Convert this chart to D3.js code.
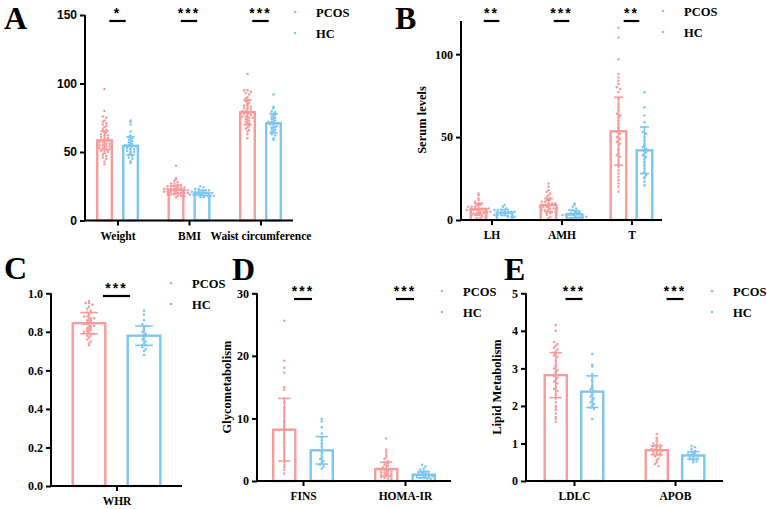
<!DOCTYPE html>
<html><head><meta charset="utf-8">
<script src="https://cdn.jsdelivr.net/npm/d3@7"></script>
<style>body{margin:0;background:#fff}svg{display:block}</style>
</head><body>
<svg id="c" width="767" height="509"></svg>
<script>
// ---------------- DATA ----------------
const groups = ["PCOS", "HC"];
const colors = ["#F89B9B", "#7DC6F0"];

// Panel A
const catsA = ["Weight", "BMI", "Waist circumference"];
const meanA_PCOS = [58.5, 22.5, 79];
const sdA_PCOS = [7, 3, 9];
const meanA_HC = [54.5, 20, 71];
const sdA_HC = [6.5, 1.8, 7];
const sigA = ["*", "***", "***"];
const ticksA = [0, 50, 100, 150];
const weightPCOS = [96,80,76,75,73,72,71,70,69,68,67,66,65,64,63,62,62,61,60,60,59,58,58,57,57,56,56,55,55,54,54,53,53,52,52,51,50,50,49,48,47,46,45,43,41];
const weightHC = [73,72,70,65,62,61,60,59,58,57,56,55,55,54,54,53,52,52,51,50,50,49,48,47,46,45,43,42];
const bmiPCOS = [40,31,30,29,28,27,27,26,26,25,25,25,24,24,24,23,23,23,23,22,22,22,22,21,21,21,21,20,20,20,20,19,19,19,18,18,18,17];
const bmiHC = [25,24,23,23,22,22,22,21,21,21,20,20,20,20,19,19,19,19,18,18,18,18,17,17];
const waistPCOS = [107,95,95,94,93,92,90,89,88,87,86,85,84,84,83,82,82,81,80,80,79,79,78,78,77,76,76,75,75,74,73,72,71,70,69,68,67,66,65,63,60];
const waistHC = [92,83,82,80,79,78,77,76,75,74,73,72,72,71,71,70,70,69,68,68,67,66,65,64,63,62,60,59];

// Panel B
const catsB = ["LH", "AMH", "T"];
const meanB_PCOS = [6.5, 9, 53.5];
const sdB_PCOS = [3.5, 4, 20.5];
const meanB_HC = [4.5, 3.5, 42];
const sdB_HC = [1.8, 2.2, 14];
const sigB = ["**", "***", "**"];
const ticksB = [0, 50, 100];
const lhPCOS = [16,15,13,12,11,10,10,9,9,8,8,8,7,7,7,7,6,6,6,6,5,5,5,5,4,4,4,4,3,3,3,2,2,1,1];
const lhHC = [9,8,7,6,6,6,5,5,5,5,4,4,4,4,4,3,3,3,3,2,2,2];
const amhPCOS = [22,20,18,17,16,15,14,13,12,12,11,11,10,10,10,9,9,9,8,8,8,7,7,7,6,6,6,5,5,4,4,3,2,1];
const amhHC = [10,9,8,7,6,6,5,5,4,4,4,3,3,3,3,2,2,2,2,1,1,1,1];
const tPCOS = [116,110,97,88,86,84,82,80,79,77,73,70,68,66,64,63,62,60,58,56,55,53,52,50,49,48,47,46,45,43,42,40,39,38,36,34,32,30,28,26,24,22,20,17];
const tHC = [77,68,63,59,56,53,52,50,48,46,45,44,43,42,41,40,39,38,37,35,33,31,29,28,27,26,25,23,21];

// Panel C
const catsC = ["WHR"];
const meanC_PCOS = [0.845];
const sdC_PCOS = [0.055];
const meanC_HC = [0.78];
const sdC_HC = [0.05];
const sigC = ["***"];
const ticksC = [0, 0.2, 0.4, 0.6, 0.8, 1.0];
const whrPCOS = [0.96,0.95,0.95,0.94,0.93,0.92,0.91,0.90,0.90,0.89,0.88,0.88,0.87,0.87,0.86,0.86,0.85,0.85,0.84,0.84,0.83,0.83,0.82,0.82,0.81,0.81,0.80,0.80,0.79,0.79,0.78,0.78,0.77,0.76,0.75,0.74,0.73];
const whrHC = [0.91,0.89,0.86,0.84,0.83,0.82,0.81,0.80,0.79,0.78,0.78,0.77,0.76,0.75,0.74,0.73,0.73,0.72,0.71,0.70,0.68];

// Panel D
const catsD = ["FINS", "HOMA-IR"];
const meanD_PCOS = [8.2, 1.9];
const sdD_PCOS = [5, 1.1];
const meanD_HC = [4.9, 1.0];
const sdD_HC = [2.2, 0.5];
const sigD = ["***", "***"];
const ticksD = [0, 10, 20, 30];
const finsPCOS = [25.6,19.2,18.1,17.3,15.0,14.6,13.2,12.6,11.8,11.4,11.0,10.4,9.8,9.4,9.0,8.6,8.2,7.8,7.4,7.0,6.6,6.2,5.8,5.4,5.0,4.6,4.2,3.8,3.4,3.0,2.6,2.2,1.8,1.2];
const finsHC = [9.9,9.5,8.6,7.6,7.0,6.5,6.0,5.5,5.0,4.6,4.2,3.8,3.5,3.2,2.9,2.6,2.3,2.0];
const homaPCOS = [6.8,5.0,4.6,4.2,3.8,3.5,3.2,3.0,2.8,2.6,2.4,2.2,2.0,1.9,1.8,1.7,1.6,1.5,1.4,1.3,1.2,1.1,1.0,0.9,0.8,0.7,0.6,0.5,0.4,0.3];
const homaHC = [2.6,2.3,2.0,1.8,1.6,1.5,1.4,1.3,1.2,1.1,1.0,1.0,0.9,0.8,0.8,0.7,0.6,0.5,0.5,0.4,0.3];

// Panel E
const catsE = ["LDLC", "APOB"];
const meanE_PCOS = [2.82, 0.82];
const sdE_PCOS = [0.6, 0.12];
const meanE_HC = [2.38, 0.68];
const sdE_HC = [0.42, 0.1];
const sigE = ["***", "***"];
const ticksE = [0, 1, 2, 3, 4, 5];
const ldlcPCOS = [4.15,4.0,3.7,3.65,3.6,3.55,3.5,3.45,3.4,3.35,3.3,3.2,3.1,3.05,3.0,2.95,2.9,2.85,2.8,2.75,2.7,2.65,2.6,2.5,2.45,2.4,2.3,2.2,2.1,2.0,1.95,1.9,1.8,1.7,1.65,1.58];
const ldlcHC = [3.38,3.1,3.05,2.85,2.8,2.7,2.65,2.55,2.5,2.45,2.4,2.35,2.3,2.25,2.2,2.15,2.1,2.05,2.0,1.95,1.92,1.65];
const apobPCOS = [1.25,1.15,1.1,1.05,1.0,0.98,0.95,0.93,0.9,0.88,0.86,0.84,0.82,0.8,0.78,0.76,0.74,0.72,0.7,0.68,0.65,0.6,0.55,0.5,0.45,0.4];
const apobHC = [0.93,0.9,0.85,0.8,0.78,0.75,0.72,0.7,0.68,0.66,0.64,0.62,0.6,0.58,0.55,0.52,0.5];

// ---------------- DRAWING ----------------
const svg = d3.select("#c");
const SERIF = "'Liberation Serif','Times New Roman',serif";
const SANS = "'Liberation Sans',Arial,sans-serif";

function panel(o) {
  const g = svg.append("g");
  const y = d3.scaleLinear().domain(o.domain).range([o.y0, o.y1]);
  const x = d3.scalePoint().domain(o.cats).range([o.x0, o.x1]).padding(o.pad);
  const bw = o.bw, gap = o.gap;
  const off = [-(gap / 2 + bw / 2), gap / 2 + bw / 2];

  o.cats.forEach((c, i) => {
    const series = [
      { m: o.mP[i], s: o.sP[i], pts: o.ptsP[i], col: colors[0] },
      { m: o.mH[i], s: o.sH[i], pts: o.ptsH[i], col: colors[1] }
    ];
    series.forEach((se, k) => {
      const cx = x(c) + off[k];
      g.append("rect")
        .attr("x", cx - bw / 2 + 1.2).attr("width", bw - 2.4)
        .attr("y", y(se.m)).attr("height", y(0) - y(se.m))
        .attr("fill", "none").attr("stroke", se.col).attr("stroke-width", 2.4);
      const rows = d3.group(se.pts, v => Math.round(y(v) / 2.6));
      const sp = Math.min(3.4, bw / 5);
      rows.forEach((vals) => {
        const n = vals.length;
        vals.forEach((v, j) => {
          const dx = (j - (n - 1) / 2) * sp;
          g.append("circle").attr("cx", cx + dx).attr("cy", y(v)).attr("r", 1.25)
            .attr("fill", se.col);
        });
      });
      const capw = bw * 0.5;
      const eb = g.append("g").attr("stroke", se.col).attr("stroke-width", 1.6);
      eb.append("line").attr("x1", cx).attr("x2", cx).attr("y1", y(se.m - se.s)).attr("y2", y(se.m + se.s));
      eb.append("line").attr("x1", cx - capw / 2).attr("x2", cx + capw / 2).attr("y1", y(se.m + se.s)).attr("y2", y(se.m + se.s));
      eb.append("line").attr("x1", cx - capw / 2).attr("x2", cx + capw / 2).attr("y1", y(se.m - se.s)).attr("y2", y(se.m - se.s));
    });
    const l1 = x(c) + off[0] + bw * 0.4, l2 = x(c) + off[1] - bw * 0.4;
    g.append("line").attr("x1", l1 - o.sigExt).attr("x2", l2 + o.sigExt).attr("y1", o.sigY).attr("y2", o.sigY)
      .attr("stroke", "#000").attr("stroke-width", 2.2);
    g.append("text").attr("x", x(c)).attr("y", o.sigY - 3).attr("text-anchor", "middle")
      .attr("font-family", SANS).attr("font-weight", "bold").attr("font-size", 14)
      .attr("letter-spacing", "2px").text(o.sig[i]);
  });

  const ya = d3.axisLeft(y).tickValues(o.ticks).tickSize(5).tickPadding(3).tickFormat(o.fmt || d3.format("d"));
  const yg = g.append("g").attr("transform", `translate(${o.x0},0)`).call(ya);
  yg.select(".domain").attr("d", `M0,${o.y0}V${o.y1}`);
  yg.selectAll("path,line").attr("stroke", "#000").attr("stroke-width", 2);
  yg.selectAll("text").attr("font-family", o.tickFont).attr("font-weight", "bold").attr("font-size", 12).attr("fill", "#000");

  const xa = d3.axisBottom(x).tickSize(5).tickPadding(6);
  const xg = g.append("g").attr("transform", `translate(0,${o.y0})`).call(xa);
  xg.select(".domain").attr("d", `M${o.x0 - 1},0H${o.x1}`);
  xg.selectAll("path,line").attr("stroke", "#000").attr("stroke-width", 2);
  xg.selectAll("text").attr("font-family", SERIF).attr("font-weight", "bold").attr("font-size", 11.5).attr("fill", "#000");

  if (o.ytitle) {
    g.append("text").attr("transform", `translate(${o.ytx},${o.yty}) rotate(-90)`)
      .attr("text-anchor", "middle").attr("font-family", SERIF).attr("font-weight", "bold")
      .attr("font-size", 12.5).text(o.ytitle);
  }
  g.append("text").attr("x", o.lx).attr("y", o.ly).attr("font-family", SERIF).attr("font-weight", "bold")
    .attr("font-size", 32).text(o.letter);
  groups.forEach((gname, k) => {
    const ly = o.legY + k * 21;
    g.append("circle").attr("cx", o.legX).attr("cy", ly).attr("r", 1.3).attr("fill", colors[k]);
    g.append("text").attr("x", o.legX + 21).attr("y", ly + 4.5).attr("font-family", SERIF)
      .attr("font-weight", "bold").attr("font-size", 12.5).text(gname);
  });
}

panel({ letter: "A", lx: 4, ly: 29, cats: catsA, mP: meanA_PCOS, sP: sdA_PCOS, mH: meanA_HC, sH: sdA_HC,
  ptsP: [weightPCOS, bmiPCOS, waistPCOS], ptsH: [weightHC, bmiHC, waistHC], sig: sigA, ticks: ticksA,
  tickFont: SANS,
  domain: [0, 150], y0: 220.5, y1: 15, x0: 85, x1: 293, pad: 0.455, bw: 17, gap: 9, sigY: 21, sigExt: 2,
  legX: 295, legY: 12 });

panel({ letter: "B", lx: 395, ly: 29, cats: catsB, mP: meanB_PCOS, sP: sdB_PCOS, mH: meanB_HC, sH: sdB_HC,
  ptsP: [lhPCOS, amhPCOS, tPCOS], ptsH: [lhHC, amhHC, tHC], sig: sigB, ticks: ticksB, tickFont: SERIF,
  domain: [0, 120], y0: 220, y1: 21, x0: 461, x1: 662, pad: 0.436, bw: 18, gap: 8, sigY: 21, sigExt: 2,
  ytitle: "Serum levels", ytx: 426, yty: 120, legX: 663, legY: 11 });

panel({ letter: "C", lx: 4, ly: 279, cats: catsC, mP: meanC_PCOS, sP: sdC_PCOS, mH: meanC_HC, sH: sdC_HC,
  ptsP: [whrPCOS], ptsH: [whrHC], sig: sigC, ticks: ticksC, fmt: d3.format(".1f"), tickFont: SERIF,
  domain: [0, 1], y0: 486, y1: 293.3, x0: 51, x1: 182, pad: 0.5, bw: 35, gap: 20, sigY: 296, sigExt: 0,
  legX: 171, legY: 283 });

panel({ letter: "D", lx: 232, ly: 280, cats: catsD, mP: meanD_PCOS, sP: sdD_PCOS, mH: meanD_HC, sH: sdD_HC,
  ptsP: [finsPCOS, homaPCOS], ptsH: [finsHC, homaHC], sig: sigD, ticks: ticksD, tickFont: SERIF,
  domain: [0, 30], y0: 481, y1: 293.3, x0: 257, x1: 451, pad: 0.451, bw: 24.5, gap: 13, sigY: 299, sigExt: 0,
  ytitle: "Glycometabolism", ytx: 231, yty: 387, legX: 442, legY: 291 });

panel({ letter: "E", lx: 504, ly: 280, cats: catsE, mP: meanE_PCOS, sP: sdE_PCOS, mH: meanE_HC, sH: sdE_HC,
  ptsP: [ldlcPCOS, apobPCOS], ptsH: [ldlcHC, apobHC], sig: sigE, ticks: ticksE, tickFont: SERIF,
  domain: [0, 5], y0: 481, y1: 293.3, x0: 526, x1: 723, pad: 0.475, bw: 24.5, gap: 12, sigY: 299, sigExt: 0,
  ytitle: "Lipid Metabolism", ytx: 501, yty: 387, legX: 712, legY: 291 });
</script>
</body></html>
